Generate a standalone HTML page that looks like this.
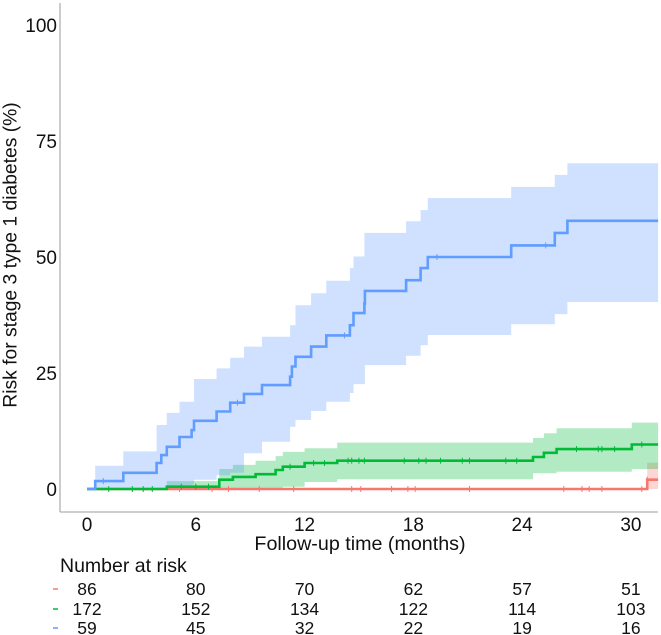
<!DOCTYPE html>
<html><head><meta charset="utf-8">
<style>
html,body{margin:0;padding:0;background:#fff;}
svg{display:block;font-family:"Liberation Sans",Arial,sans-serif;}
</style></head>
<body>
<svg id="chart" width="661" height="635" viewBox="0 0 661 635">
  <line x1="60" y1="3" x2="60" y2="512" stroke="#b0b0b0" stroke-width="1.3"/>
  <line x1="60" y1="512" x2="658" y2="512" stroke="#b0b0b0" stroke-width="1.3"/>
  <g id="bands"></g>
  <g id="lines"></g>
  <g id="yticks"></g>
  <g id="xticks"></g>
  <text x="11" y="255" transform="rotate(-90 11 255)" text-anchor="middle" dominant-baseline="central" font-size="19.3" fill="#111">Risk for stage 3 type 1 diabetes (%)</text>
  <text x="360" y="550" text-anchor="middle" font-size="19.7" fill="#111">Follow-up time (months)</text>
  <text x="60" y="572" font-size="19.5" fill="#111">Number at risk</text>
  <g id="risk"></g>
</svg>
<script>
// ---- data ----
const xTicks = [0, 6, 12, 18, 24, 30];
const yTicks = [0, 25, 50, 75, 100];
const blueTimes = [0.45, 2.0, 3.84, 4.1, 4.4, 5.1, 5.77, 5.9, 7.15, 7.9, 8.66, 9.65, 11.2, 11.3, 11.5, 12.36, 13.2, 14.5, 14.7, 15.3, 15.33, 17.6, 18.4, 18.8, 23.4, 25.8, 26.5];
const blueRisk = [1.7, 3.5, 5.6, 7.3, 9.1, 11.2, 12.7, 14.7, 16.7, 18.6, 20.5, 22.4, 24.2, 26.4, 28.5, 30.7, 33.1, 35.3, 37.9, 40.0, 42.7, 45.0, 47.6, 50.0, 52.5, 55.2, 57.8];
const blueUpper = [5, 8.1, 13.8, 13.8, 16.4, 18.8, 18.8, 23.7, 26, 28.3, 30.7, 32.8, 35.3, 35.3, 39.6, 42.2, 44.9, 47.6, 50.1, 55.2, 55.2, 57.7, 60.1, 62.7, 65.1, 67.7, 70.2];
const blueLower = [0, 0, 0, 0, 0, 0.5, 1, 2, 3, 3.5, 7.7, 10.2, 13.4, 13.4, 14.9, 16.8, 18.8, 20.7, 22.6, 22.6, 26.7, 28.7, 31, 33.2, 35.5, 37.7, 40.3];
const greenTimes = [4.4, 7.3, 8.05, 9.3, 10.4, 10.8, 12.0, 13.8, 24.6, 25.2, 25.9, 30.05];
const greenRisk = [0.5, 2.0, 2.6, 3.2, 4.1, 4.8, 5.6, 6.1, 6.9, 7.8, 8.6, 9.6];
const greenUpper = [1.7, 4.3, 5.2, 6.1, 7.1, 8.0, 8.8, 10.0, 11.0, 12.0, 13.1, 14.3];
const greenLower = [0, 0, 0, 0, 0, 0.5, 1.5, 2.1, 3.4, 3.4, 3.7, 4.3];
const redTimes = [30.9];
const redRisk = [2.0];
const redUpper = [5.7];
const redLower = [0];
const blueCensor = [0.9, 8.3, 14.2, 19.3, 25.3];
const greenCensor = [1.2, 2.5, 3.1, 3.6, 5.2, 6.0, 6.7, 11.2, 12.5, 13.1, 14.4, 14.6, 15.0, 15.3, 17.5, 18.3, 18.7, 19.5, 20.7, 21.1, 23.1, 23.7, 27.0, 28.2, 28.4, 29.1, 30.6];
const redCensor = [5.1, 6.9, 7.8, 9.5, 11.4, 14.6, 15.1, 16.8, 17.7, 18.1, 21.1, 26.3, 27.3, 27.7, 28.4, 30.6, 30.9];
const riskRed = [86, 80, 70, 62, 57, 51];
const riskGreen = [172, 152, 134, 122, 114, 103];
const riskBlue = [59, 45, 32, 22, 19, 16];

// ---- scales ----
const X0 = 87, PXM = 18.13, Y0 = 489, PXP = 4.64, TEND = 31.5;
const sx = t => X0 + t * PXM;
const sy = v => Y0 - v * PXP;
const NS = "http://www.w3.org/2000/svg";
function mk(tag, parent) { const e = document.createElementNS(NS, tag); parent.appendChild(e); return e; }

function stepPts(times, vals) {
  let pts = [[0, 0]]; let cur = 0;
  times.forEach((t, i) => { pts.push([t, cur]); cur = vals[i]; pts.push([t, cur]); });
  pts.push([TEND, cur]);
  return pts;
}
function pathD(pts) { return pts.map((p, i) => (i ? "L" : "M") + sx(p[0]).toFixed(1) + " " + sy(p[1]).toFixed(1)).join(" "); }
function valAt(times, vals, t) { let v = 0; times.forEach((tt, i) => { if (tt <= t) v = vals[i]; }); return v; }

const series = [
  {name: "red", col: "#F8766D", times: redTimes, risk: redRisk, up: redUpper, lo: redLower, cens: redCensor, start: 4.4},
  {name: "green", col: "#00BA38", times: greenTimes, risk: greenRisk, up: greenUpper, lo: greenLower, cens: greenCensor, start: 4.4},
  {name: "blue", col: "#619CFF", times: blueTimes, risk: blueRisk, up: blueUpper, lo: blueLower, cens: blueCensor, start: 0.45}
];
const bands = document.getElementById("bands"), lines = document.getElementById("lines");
series.forEach(s => {
  const t0 = s.start;
  const up = stepPts(s.times, s.up).filter(p => p[0] >= t0);
  const lo = stepPts(s.times, s.lo).filter(p => p[0] >= t0).reverse();
  const poly = up.concat(lo);
  const b = mk("path", bands);
  b.setAttribute("d", pathD(poly) + " Z");
  b.setAttribute("fill", s.col);
  b.setAttribute("fill-opacity", "0.3");
  
  
});
series.forEach(s => {
  const l = mk("path", lines);
  l.setAttribute("d", pathD(stepPts(s.times, s.risk)));
  l.setAttribute("fill", "none");
  l.setAttribute("stroke", s.col);
  l.setAttribute("stroke-width", "2.6");
  
  
  s.cens.forEach(t => {
    const v = valAt(s.times, s.risk, t);
    const c = mk("line", lines);
    c.setAttribute("x1", sx(t)); c.setAttribute("x2", sx(t));
    c.setAttribute("y1", sy(v) - 3); c.setAttribute("y2", sy(v) + 3);
    c.setAttribute("stroke", s.col); c.setAttribute("stroke-width", "1");
    
    
  });
});
const yt = document.getElementById("yticks");
yTicks.forEach(v => {
  const t = mk("text", yt);
  t.setAttribute("x", 57); t.setAttribute("y", sy(v) + 7);
  t.setAttribute("text-anchor", "end"); t.setAttribute("font-size", "19"); t.setAttribute("fill", "#111");
  
  
  t.textContent = v;
});
const xt = document.getElementById("xticks");
xTicks.forEach(v => {
  const t = mk("text", xt);
  t.setAttribute("x", sx(v)); t.setAttribute("y", 531);
  t.setAttribute("text-anchor", "middle"); t.setAttribute("font-size", "19"); t.setAttribute("fill", "#111");
  
  
  t.textContent = v;
});
const rk = document.getElementById("risk");
[[riskRed, "#F8766D", 595, "red"], [riskGreen, "#00BA38", 615, "green"], [riskBlue, "#619CFF", 634, "blue"]].forEach(r => {
  const d = mk("line", rk);
  d.setAttribute("x1", 53); d.setAttribute("x2", 58); d.setAttribute("y1", r[2] - 6); d.setAttribute("y2", r[2] - 6);
  d.setAttribute("stroke", r[1]); d.setAttribute("stroke-width", "1.5");
  
  
  r[0].forEach((n, i) => {
    const t = mk("text", rk);
    t.setAttribute("x", sx(xTicks[i])); t.setAttribute("y", r[2]);
    t.setAttribute("text-anchor", "middle"); t.setAttribute("font-size", "17.5"); t.setAttribute("fill", "#111");
    
    
    t.textContent = n;
  });
});
</script>
</body></html>
